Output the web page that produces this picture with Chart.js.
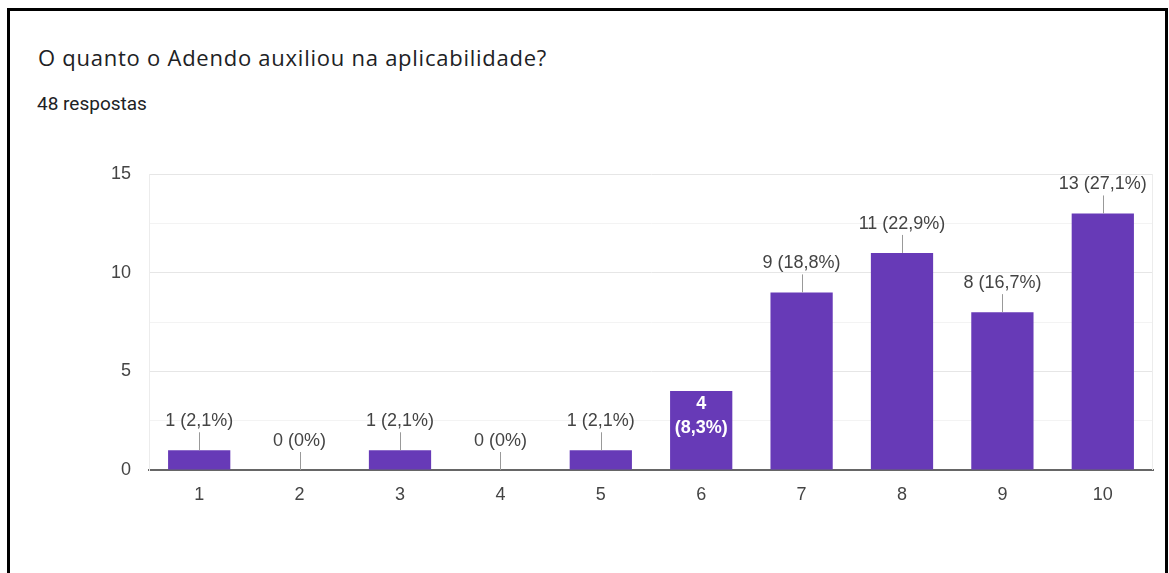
<!DOCTYPE html>
<html>
<head>
<meta charset="utf-8">
<script src="https://cdn.jsdelivr.net/npm/chart.js@4.4.0/dist/chart.umd.min.js"></script>
<style>
  body { margin: 0; width: 1169px; height: 573px; overflow: hidden; background: #fff; }
  #moldura { position: absolute; left: 7px; top: 8px; width: 1155px; height: 620px; border: 3px solid #000; border-bottom: none; }
  #titulo { position: absolute; left: 38px; top: 44px; font: 22px "Open Sans", Roboto, Arial, sans-serif; letter-spacing: 0.75px; line-height: 26px; color: #202124; white-space: nowrap; }
  #respostas { position: absolute; left: 37px; top: 93px; font: 19px Roboto, Arial, sans-serif; line-height: 21px; color: #202124; white-space: nowrap; }
  #grafico { position: absolute; left: 0; top: 0; }
</style>
</head>
<body>
<div id="moldura"></div>
<div id="titulo">O quanto o Adendo auxiliou na aplicabilidade?</div>
<div id="respostas">48 respostas</div>
<canvas id="grafico" width="1169" height="573"></canvas>
<script>
// Dados do grafico
const categorias = ["1", "2", "3", "4", "5", "6", "7", "8", "9", "10"];
const respostas = [1, 0, 1, 0, 1, 4, 9, 11, 8, 13];
const porcentagens = ["2,1%", "0%", "2,1%", "0%", "2,1%", "8,3%", "18,8%", "22,9%", "16,7%", "27,1%"];
const rotulosY = [0, 5, 10, 15];
const dentro = [5]; // barras com o rotulo dentro

const roxo = "#673ab7";
const fonte = "'Liberation Sans', Arial, sans-serif";

// Rotulos em cima das barras, com a linha de ligacao
const rotulos = {
  id: "rotulos",
  afterDatasetsDraw(chart) {
    const ctx = chart.ctx;
    const area = chart.chartArea;
    ctx.save();

    // borda direita clarinha
    ctx.strokeStyle = "#ececec";
    ctx.lineWidth = 1;
    ctx.beginPath();
    ctx.moveTo(area.right - 0.5, area.top);
    ctx.lineTo(area.right - 0.5, area.bottom);
    ctx.stroke();

    const meta = chart.getDatasetMeta(0);
    meta.data.forEach((barra, i) => {
      const x = barra.x;
      const y = barra.y;
      ctx.textAlign = "center";
      ctx.textBaseline = "middle";
      if (dentro.includes(i)) {
        ctx.fillStyle = "#fff";
        ctx.font = "bold 18px " + fonte;
        ctx.fillText(String(respostas[i]), x, y + 13);
        ctx.fillText("(" + porcentagens[i] + ")", x, y + 37);
      } else {
        ctx.strokeStyle = "#999";
        ctx.lineWidth = 1;
        ctx.beginPath();
        ctx.moveTo(Math.round(x) + 0.5, y);
        ctx.lineTo(Math.round(x) + 0.5, y - 18);
        ctx.stroke();
        ctx.fillStyle = "#444";
        ctx.font = "18px " + fonte;
        ctx.fillText(respostas[i] + " (" + porcentagens[i] + ")", x, y - 29);
      }
    });
    ctx.restore();
  }
};

const grafico = new Chart(document.getElementById("grafico"), {
  type: "bar",
  data: {
    labels: categorias,
    datasets: [{
      data: respostas,
      backgroundColor: roxo,
      borderWidth: 0,
      barPercentage: 0.62,
      categoryPercentage: 1
    }]
  },
  options: {
    responsive: false,
    animation: false,
    layout: { padding: { left: 100, top: 174, right: 16, bottom: 63 } },
    plugins: {
      legend: { display: false },
      tooltip: { enabled: false }
    },
    scales: {
      x: {
        grid: { display: false, drawTicks: false },
        border: { color: "#666", width: 2 },
        ticks: { color: "#444", font: { family: fonte, size: 18 }, padding: 14 },
        afterFit(s) { s.height = 40; }
      },
      y: {
        min: 0,
        max: 15,
        border: { color: "#ececec", width: 1 },
        grid: {
          drawTicks: false,
          color(c) {
            if (!c.tick) return "#ececec";
            if (c.tick.value === 0) return "#666";
            return rotulosY.includes(c.tick.value) ? "#e6e6e6" : "#f3f3f3";
          }
        },
        ticks: {
          stepSize: 2.5,
          padding: 18,
          color: "#444",
          font: { family: fonte, size: 18 },
          callback(v) { return rotulosY.includes(v) ? v : ""; }
        },
        afterFit(s) { s.width = 49; }
      }
    }
  },
  plugins: [rotulos]
});
</script>
</body>
</html>
